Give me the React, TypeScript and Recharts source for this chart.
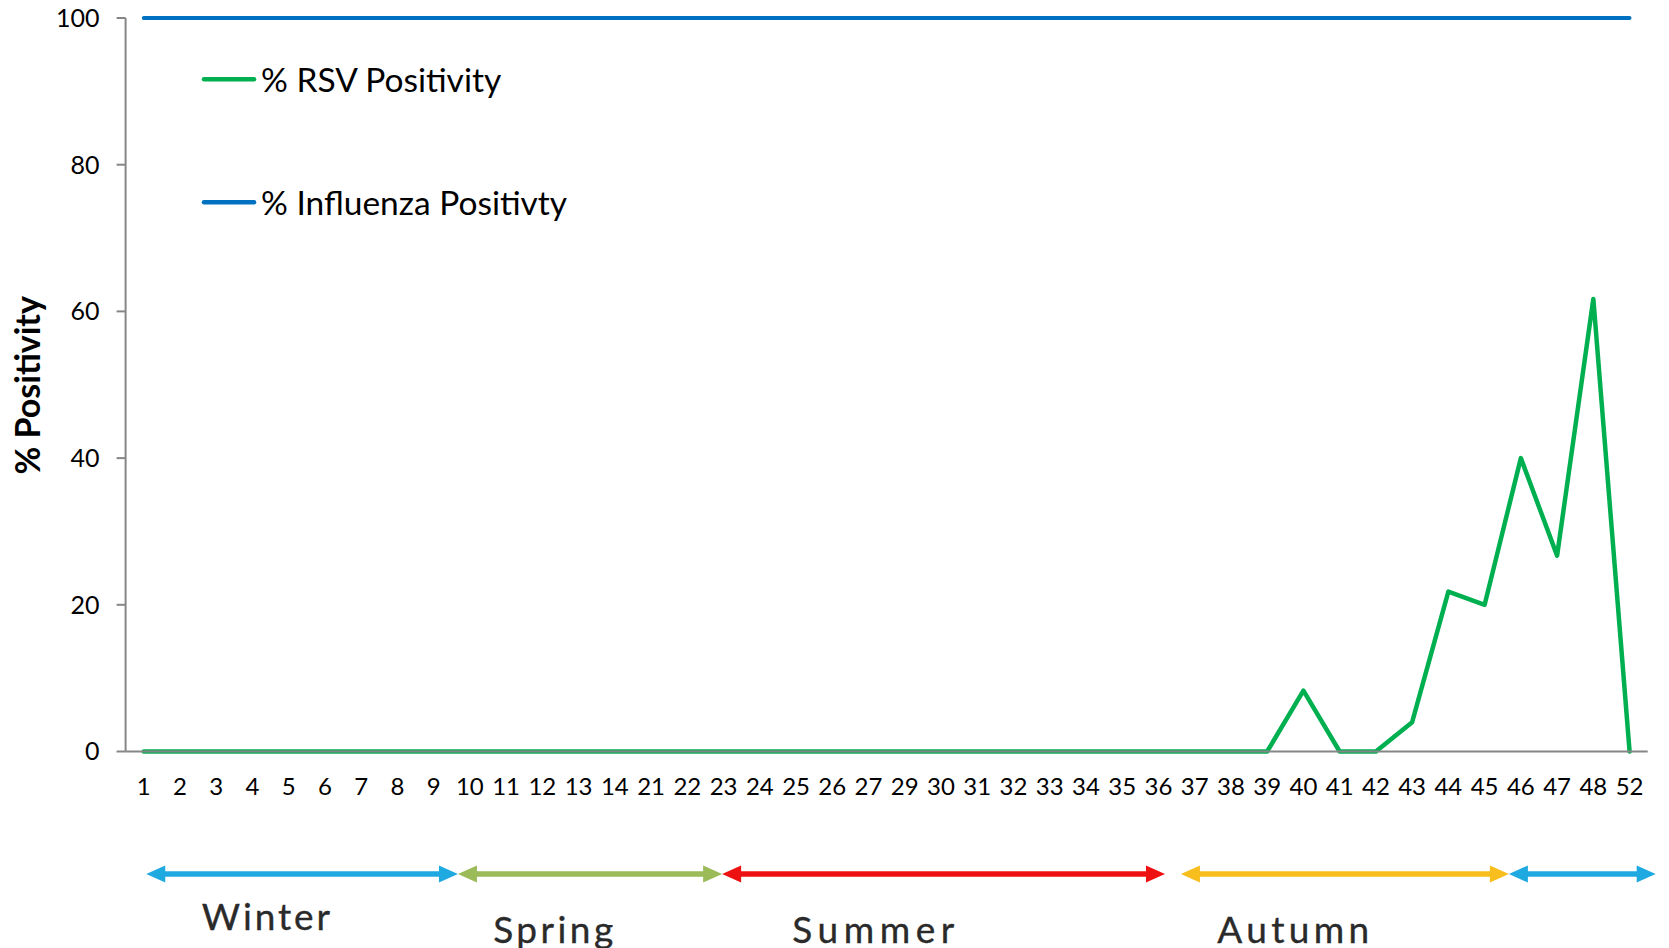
import React from 'react';
import { LineChart, Line, XAxis, YAxis, Customized } from 'recharts';

const weeks: string[] = [
  '1', '2', '3', '4', '5', '6', '7', '8', '9', '10', '11', '12', '13', '14',
  '21', '22', '23', '24', '25', '26', '27', '29', '30', '31', '32', '33', '34',
  '35', '36', '37', '38', '39', '40', '41', '42', '43', '44', '45', '46', '47', '48', '52',
];

const rsvPositivity: number[] = [
  0, 0, 0, 0, 0, 0, 0, 0, 0, 0, 0, 0, 0, 0,
  0, 0, 0, 0, 0, 0, 0, 0, 0, 0, 0, 0, 0,
  0, 0, 0, 0, 0, 8.3, 0, 0, 4, 21.8, 20, 40, 26.7, 61.7, 0,
];

const influenzaPositivity: number[] = [
  100, 100, 100, 100, 100, 100, 100, 100, 100, 100, 100, 100, 100, 100,
  100, 100, 100, 100, 100, 100, 100, 100, 100, 100, 100, 100, 100,
  100, 100, 100, 100, 100, 100, 100, 100, 100, 100, 100, 100, 100, 100, 100,
];

const yTicks: number[] = [0, 20, 40, 60, 80, 100];

const legendLabels: string[] = ['% RSV Positivity', '% Influenza Positivty'];
const legendColors: string[] = ['#00B050', '#0070C0'];

// seasons expressed in category-index units
const seasonNames: string[] = ['Winter', 'Spring', 'Summer', 'Autumn', ''];
const seasonColors: string[] = ['#1FA9E1', '#9BBB59', '#EE1111', '#F7BE1E', '#1FA9E1'];
const seasonStart: number[] = [0.07, 8.67, 15.96, 28.62, 37.67];
const seasonEnd: number[] = [8.67, 15.96, 28.18, 37.67, 41.72];
const seasonLabelPos: number[] = [3.37, 11.3, 20.13, 31.72, 0];
const seasonLabelWidth: number[] = [128, 120, 162, 152, 0];
const seasonLabelRow: number[] = [0, 1, 1, 1, 0];

const data = weeks.map((w, i) => ({
  week: w,
  rsv: rsvPositivity[i],
  flu: influenzaPositivity[i],
}));

const W = 1669;
const H = 948;
const PLOT_LEFT = 125.6;
const PLOT_RIGHT_MARGIN = 21.3;
const PLOT_TOP = 18;
const X_AXIS_H = 60;
const PLOT_BOTTOM_MARGIN = H - 751.5 - X_AXIS_H;
const BAND = (W - PLOT_RIGHT_MARGIN - PLOT_LEFT) / weeks.length;
const catX = (i: number) => PLOT_LEFT + BAND / 2 + i * BAND;

const FONT = 'Lato, "Open Sans", sans-serif';

const Overlay = () => {
  const y = 874;
  const head = 19;
  const half = 8.5;
  return (
    <g>
      {legendLabels.map((label, i) => {
        const cy = 79.3 + i * 123;
        return (
          <g key={'lg' + i}>
            <line x1={204} x2={254} y1={cy} y2={cy} stroke={legendColors[i]} strokeWidth={4.5} strokeLinecap="round" />
            <text x={261} y={cy} dominantBaseline="central" fontFamily={FONT} fontSize={33.5} fill="#000">
              {label}
            </text>
          </g>
        );
      })}
      {seasonNames.map((name, i) => {
        const x1 = catX(seasonStart[i]);
        const x2 = catX(seasonEnd[i]);
        const c = seasonColors[i];
        return (
          <g key={i}>
            <line x1={x1 + head - 2} x2={x2 - head + 2} y1={y} y2={y} stroke={c} strokeWidth={5.5} />
            <polygon points={`${x1},${y} ${x1 + head},${y - half} ${x1 + head},${y + half}`} fill={c} />
            <polygon points={`${x2},${y} ${x2 - head},${y - half} ${x2 - head},${y + half}`} fill={c} />
            {name ? (
              <text
                x={catX(seasonLabelPos[i]) - seasonLabelWidth[i] / 2}
                y={seasonLabelRow[i] === 0 ? 930 : 943}
                fontFamily={FONT}
                fontSize={37}
                fill="#2a2a2a"
                stroke="#2a2a2a"
                strokeWidth={0.35}
                textLength={seasonLabelWidth[i]}
                lengthAdjust="spacing"
              >
                {name}
              </text>
            ) : null}
          </g>
        );
      })}
      <text
        x={27}
        y={362 * 1.0644}
        transform={`rotate(-90 27 ${362 * 1.0644})`}
        textAnchor="middle"
        dominantBaseline="central"
        fontFamily={FONT}
        fontWeight={700}
        fontSize={34}
        fill="#000"
      >
        % Positivity
      </text>
    </g>
  );
};

export default function App() {
  return (
    <div style={{ position: 'absolute', left: 0, top: 0, width: W, height: H, background: '#fff' }}>
      <LineChart
        width={W}
        height={H}
        data={data}
        margin={{ top: PLOT_TOP, right: PLOT_RIGHT_MARGIN, bottom: PLOT_BOTTOM_MARGIN, left: 0 }}
      >
        <XAxis
          dataKey="week"
          interval={0}
          height={X_AXIS_H}
          padding={{ left: BAND / 2, right: BAND / 2 }}
          axisLine={{ stroke: '#868686', strokeWidth: 2 }}
          tickLine={false}
          tickSize={0}
          tickMargin={26.5}
          tick={{ fontFamily: FONT, fontSize: 24, fill: '#000' }}
        />
        <YAxis
          width={PLOT_LEFT}
          domain={[0, 100]}
          ticks={yTicks}
          interval={0}
          axisLine={{ stroke: '#868686', strokeWidth: 2 }}
          tickLine={{ stroke: '#868686', strokeWidth: 2 }}
          tickSize={9}
          tickMargin={17}
          tick={{ fontFamily: FONT, fontSize: 25, fill: '#000' }}
        />
        <Line
          dataKey="flu"
          name="% Influenza Positivty"
          stroke="#0070C0"
          strokeWidth={3.8}
          strokeLinecap="round"
          dot={false}
          isAnimationActive={false}
        />
        <Line
          dataKey="rsv"
          name="% RSV Positivity"
          stroke="#00B050"
          strokeWidth={4.5}
          strokeLinejoin="round"
          strokeLinecap="round"
          dot={false}
          isAnimationActive={false}
        />
        <Customized component={<Overlay />} />
      </LineChart>
    </div>
  );
}
